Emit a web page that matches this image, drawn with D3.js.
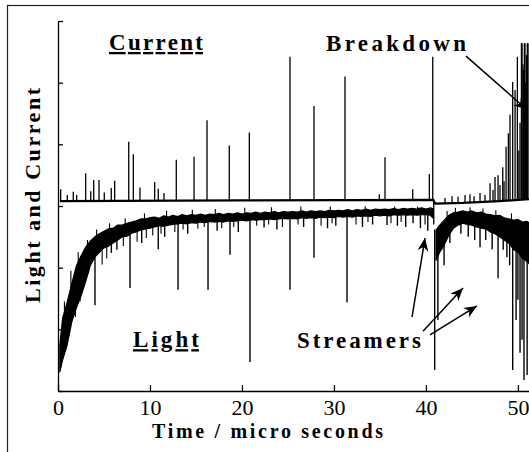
<!DOCTYPE html>
<html>
<head>
<meta charset="utf-8">
<script src="https://cdn.jsdelivr.net/npm/d3@7"></script>
<style>
  body { margin: 0; background: #fff; }
  svg { display: block; }
  text { font-family: "Liberation Serif", "Times New Roman", serif; fill: #000; }
</style>
</head>
<body>
<svg id="chart" width="529" height="452"></svg>
<script>
// Axis ticks (time in microseconds, signal in arbitrary units)
const xTickValues = [0, 10, 20, 30, 40, 50];
const yTickValues = [0, 1, 2, 3, 4, 5, 6];

// Light signal: sampled upper and lower edges of the noisy trace
const lightTimes = [0.2,0.5,1,1.5,2,2.5,3,3.5,4,4.5,5,5.5,6,6.5,7,7.5,8,8.5,9,9.5,
  10,10.5,11,11.5,12,12.5,13,13.5,14,14.5,15,15.5,16,16.5,17,17.5,18,18.5,19,19.5,
  20,20.5,21,21.5,22,22.5,23,23.5,24,24.5,25,25.5,26,26.5,27,27.5,28,28.5,29,29.5,
  30,30.5,31,31.5,32,32.5,33,33.5,34,34.5,35,35.5,36,36.5,37,37.5,38,38.5,39,39.5,
  40,40.5,40.8,41.1,41.5,42,42.5,43,43.5,44,44.5,45,45.5,46,46.5,47,47.5,48,48.5,
  49,49.5,50,50.5,51,51.3];
const lightUpper = [0.75,1.18,1.44,1.74,2.03,2.19,2.33,2.43,2.50,2.55,2.59,2.63,2.64,2.69,2.69,2.72,2.74,2.76,2.79,2.79,
  2.81,2.82,2.80,2.84,2.82,2.85,2.83,2.86,2.84,2.86,2.85,2.87,2.85,2.87,2.86,2.88,2.86,2.88,2.87,2.89,
  2.87,2.89,2.88,2.90,2.88,2.90,2.89,2.91,2.89,2.91,2.90,2.91,2.90,2.92,2.90,2.92,2.91,2.92,2.91,2.93,
  2.92,2.93,2.92,2.94,2.92,2.94,2.93,2.95,2.93,2.95,2.94,2.95,2.94,2.96,2.94,2.96,2.95,2.96,2.95,2.97,
  2.95,2.97,2.95,2.61,2.69,2.77,2.85,2.89,2.90,2.92,2.90,2.92,2.89,2.90,2.87,2.86,2.84,2.85,2.81,
  2.79,2.77,2.78,2.74,2.75,2.72];
const lightLower = [0.31,0.50,0.75,1.12,1.35,1.54,1.77,2.03,2.17,2.25,2.32,2.35,2.40,2.45,2.50,2.51,2.56,2.58,2.61,2.63,
  2.64,2.66,2.68,2.67,2.69,2.70,2.71,2.72,2.71,2.73,2.72,2.74,2.73,2.75,2.74,2.75,2.74,2.76,2.75,2.76,
  2.77,2.76,2.78,2.77,2.78,2.78,2.79,2.78,2.79,2.80,2.79,2.80,2.79,2.81,2.80,2.81,2.80,2.82,2.81,2.82,
  2.81,2.83,2.82,2.83,2.82,2.84,2.83,2.84,2.83,2.85,2.84,2.85,2.84,2.86,2.85,2.86,2.85,2.86,2.85,2.86,
  2.86,2.85,2.80,2.12,2.25,2.37,2.53,2.64,2.69,2.72,2.70,2.69,2.66,2.64,2.63,2.58,2.55,2.50,2.45,
  2.40,2.30,2.25,2.15,2.10,2.05];
const lightGap = [40.8, 41.1];

// Downward excursions of the light signal: [time, minimum]
const lightSpikes = [[2.9,1.80],[4.02,1.39],[5.8,2.24],[6.4,2.29],[7.83,1.67],[9.1,2.40],[10.9,2.30],[11.6,2.50],
  [13.05,1.64],[14.1,2.55],[16.31,1.64],[17.3,2.60],[18.7,2.21],[19.6,2.58],[20.87,0.47],[22.4,2.65],[23.8,2.62],
  [25.22,1.64],[26.7,2.66],[27.83,2.16],[29.3,2.64],[30.2,2.68],[31.42,1.44],[33.1,2.66],[34.2,2.70],[35.77,2.69],
  [36.9,2.68],[37.8,2.66],[38.6,2.72],[39.4,2.64],[40.2,2.60],[40.95,0.34],
  [41.3,1.15],[41.7,2.29],[41.97,2.04],[42.6,2.40],[43.8,2.55],[44.6,2.50],[45.3,2.45],[45.88,2.33],[46.5,2.45],
  [47.2,2.30],[47.84,1.83],[48.4,2.29],[48.8,2.17],[49.1,2.04],[49.43,0.34],[49.8,1.15],[50.0,1.48],[50.23,0.62],
  [50.45,0.83],[50.66,0.18],[51.0,0.26]];
// Smaller fluctuations of the light signal: [time, value]
const lightFlicker = [[0.7,1.45],[1.2,0.90],[1.4,1.95],[1.9,1.20],[2.2,2.25],[2.4,1.45],[3.2,2.45],[3.3,1.90],
  [4.2,2.62],[4.8,2.05],[5.3,2.15],[5.6,2.72],[7.1,2.35],[7.3,2.80],[8.6,2.42],[9.4,2.88],[9.6,2.48],[10.3,2.52],
  [11.2,2.55],[11.8,2.92],[12.7,2.58],[13.6,2.62],[14.6,2.94],[15.2,2.63],[15.9,2.66],[17.1,2.95],[17.8,2.64],
  [19.1,2.66],[20.3,2.97],[21.6,2.68],[22.9,2.70],[23.2,2.98],[24.4,2.66],[26.1,2.70],[26.4,2.99],[28.6,2.68],
  [29.6,2.99],[29.8,2.72],[32.4,2.70],[33.4,2.99],[33.7,2.74],[36.2,2.72],[36.6,2.99],[37.3,2.74],[39.1,2.99],
  [39.9,2.70],[42.3,2.92],[43.2,2.97],[44.8,2.98],[46.2,2.96],[47.6,2.93],[49.3,2.88]];

// Current signal: baseline and current pulses [time, peak]
const currentBaseTimes = [0.2, 20, 40.8, 41.0, 44, 48, 51.3];
const currentBaseValues = [3.08, 3.09, 3.10, 3.04, 3.05, 3.08, 3.11];
const currentSpikes = [[0.29,3.27],[1.01,3.18],[1.66,3.23],[2.03,3.18],[3.01,3.53],[3.56,3.24],[3.88,3.42],[4.46,3.42],
  [5.03,3.22],[5.79,3.29],[6.16,3.41],[7.69,4.04],[8.19,3.84],[8.91,3.30],[10.51,3.39],[10.90,3.28],[11.52,3.21],
  [12.86,3.75],[14.79,3.80],[16.20,4.39],[18.62,3.98],[20.80,4.19],[25.22,5.42],[27.83,4.62],[31.20,5.10],
  [34.93,3.19],[35.55,3.79],[38.56,3.27],[40.37,3.52],[40.74,5.42],[40.85,2.70],
  [42.07,3.13],[42.84,3.16],[43.49,3.15],[44.25,3.18],[44.79,3.19],[45.23,3.16],[45.88,3.21],[46.42,3.18],
  [46.97,3.37],[47.29,3.26],[47.51,3.47],[47.84,3.50],[48.05,3.34],[48.35,3.63],[48.49,3.40],[48.71,3.96],
  [48.96,4.18],[49.14,4.48],[49.43,5.01],[49.69,4.88],[49.94,5.42],[50.10,3.90],[50.23,4.35],[50.38,5.64],
  [50.45,5.64],[50.55,5.30],[50.61,5.21],[50.70,5.64],[50.77,5.64],[50.85,5.00],[50.93,5.45],[51.02,5.64],[51.10,5.64]];

// Annotations (data coordinates)
const labels = [
  { text: "Current", t: 5.54, v: 5.53, len: 94, underline: true },
  { text: "Breakdown", t: 29.14, v: 5.51, len: 140, underline: false },
  { text: "Light", t: 8.15, v: 0.71, len: 66, underline: true },
  { text: "Streamers", t: 25.98, v: 0.70, len: 124, underline: false }
];
const arrows = [
  { from: [44.36, 5.43], to: [50.99, 4.56] },
  { from: [38.49, 1.20], to: [39.90, 2.48] },
  { from: [39.68, 0.97], to: [44.03, 1.67] },
  { from: [40.44, 0.91], to: [45.55, 1.38] }
];

const svg = d3.select("#chart");
const x = d3.scaleLinear().domain([0, 52.4]).range([58, 540]);
const y = d3.scaleLinear().domain([0, 6]).range([391, 21]);

// outer frame
svg.append("rect")
  .attr("x", 7.5).attr("y", 5.5).attr("width", 560).attr("height", 480)
  .attr("fill", "none").attr("stroke", "#222").attr("stroke-width", 1.2);

// light trace as a filled noise band, split at the breakdown gap
const band = lightTimes.map((t, i) => ({ t, hi: lightUpper[i], lo: lightLower[i] }));
const area = d3.area().x(d => x(d.t)).y0(d => y(d.lo)).y1(d => y(d.hi));
[band.filter(d => d.t <= lightGap[0]), band.filter(d => d.t >= lightGap[1])].forEach(seg => {
  svg.append("path").attr("d", area(seg))
    .attr("fill", "#000").attr("stroke", "#000").attr("stroke-width", 1.2).attr("stroke-linejoin", "round");
});

const bis = d3.bisector(d => d.t).left;
function bandMid(t) {
  const i = bis(band, t);
  const a = band[Math.max(0, i - 1)], b = band[Math.min(band.length - 1, i)];
  return (a.hi + a.lo + b.hi + b.lo) / 4;
}
svg.append("g").selectAll("line").data(lightSpikes).join("line")
  .attr("x1", d => x(d[0])).attr("x2", d => x(d[0]))
  .attr("y1", d => y(bandMid(d[0]))).attr("y2", d => y(d[1]))
  .attr("stroke", "#000").attr("stroke-width", 1.4);
svg.append("g").selectAll("line").data(lightFlicker).join("line")
  .attr("x1", d => x(d[0])).attr("x2", d => x(d[0]))
  .attr("y1", d => y(bandMid(d[0]))).attr("y2", d => y(d[1]))
  .attr("stroke", "#000").attr("stroke-width", 1.1);

// current trace
const base = currentBaseTimes.map((t, i) => [t, currentBaseValues[i]]);
svg.append("path")
  .attr("d", d3.line().x(d => x(d[0])).y(d => y(d[1]))(base))
  .attr("fill", "none").attr("stroke", "#000").attr("stroke-width", 2.2);
const baseAt = d3.scaleLinear().domain(currentBaseTimes).range(currentBaseValues);
svg.append("g").selectAll("line").data(currentSpikes).join("line")
  .attr("x1", d => x(d[0])).attr("x2", d => x(d[0]))
  .attr("y1", d => y(baseAt(d[0]))).attr("y2", d => y(d[1]))
  .attr("stroke", "#000").attr("stroke-width", 1.3);

// axes
const yAxis = d3.axisLeft(y).tickValues(yTickValues).tickSize(-5).tickSizeOuter(0).tickFormat("");
const gy = svg.append("g").attr("transform", `translate(${x(0)},0)`).call(yAxis);
const xAxis = d3.axisBottom(x).tickValues(xTickValues).tickSize(-6).tickSizeOuter(0).tickPadding(8);
const gx = svg.append("g").attr("transform", `translate(0,${y(0)})`).call(xAxis);
[gx, gy].forEach(g => {
  g.attr("color", "#000");
  g.selectAll("path, line").attr("stroke-width", 1.3);
});
gx.selectAll("text")
  .style("font-family", '"Liberation Serif", "Times New Roman", serif')
  .style("font-size", "22px");

// axis titles
svg.append("text")
  .attr("x", 152).attr("y", 438)
  .attr("textLength", 231).attr("lengthAdjust", "spacing")
  .style("font-weight", "bold").style("font-size", "20px")
  .text("Time / micro seconds");
svg.append("text")
  .attr("transform", "translate(40,303) rotate(-90)")
  .attr("textLength", 215).attr("lengthAdjust", "spacing")
  .style("font-weight", "bold").style("font-size", "22px")
  .text("Light and Current");

// annotation labels
svg.append("g").selectAll("text").data(labels).join("text")
  .attr("x", d => x(d.t)).attr("y", d => y(d.v))
  .attr("textLength", d => d.len).attr("lengthAdjust", "spacing")
  .style("font-weight", "bold").style("font-size", "23px")
  .style("text-decoration", d => d.underline ? "underline" : "none")
  .text(d => d.text);

// arrows
svg.append("defs").append("marker")
  .attr("id", "head").attr("viewBox", "-14 -7 16 14")
  .attr("refX", 0).attr("refY", 0)
  .attr("markerWidth", 16).attr("markerHeight", 14)
  .attr("markerUnits", "userSpaceOnUse").attr("orient", "auto")
  .append("path").attr("d", "M0,0 L-13,-5.5 L-9,0 L-13,5.5 Z").attr("fill", "#000");
svg.append("g").selectAll("line").data(arrows).join("line")
  .attr("x1", d => x(d.from[0])).attr("y1", d => y(d.from[1]))
  .attr("x2", d => x(d.to[0])).attr("y2", d => y(d.to[1]))
  .attr("stroke", "#000").attr("stroke-width", 1.5)
  .attr("marker-end", "url(#head)");
</script>
</body>
</html>
